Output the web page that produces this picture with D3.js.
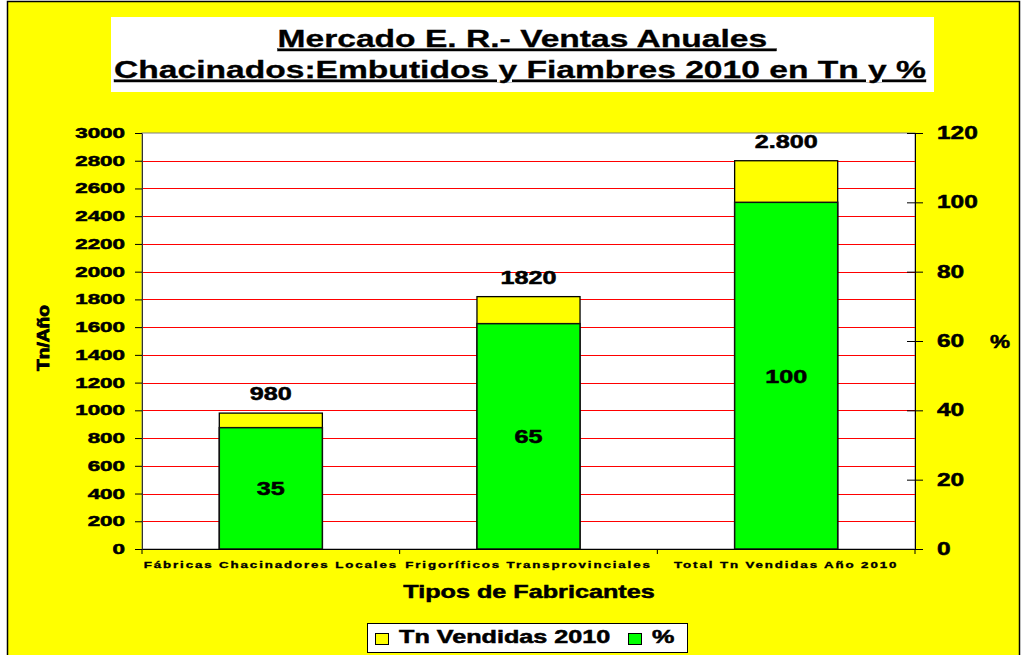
<!DOCTYPE html>
<html>
<head>
<meta charset="utf-8">
<script src="https://cdn.jsdelivr.net/npm/d3@7"></script>
<style>
  body { margin: 0; background: #fff; }
  text { font-family: "Liberation Sans", Arial, sans-serif; font-weight: bold; fill: #000;
         stroke: #000; stroke-width: 0.5px; }
</style>
</head>
<body>
<div id="chart"></div>
<script>
// data
var categories = ["Fábricas Chacinadores Locales", "Frigoríficos Transprovinciales", "Total Tn Vendidas Año 2010"];
var tnValues = [980, 1820, 2800];
var tnLabels = ["980", "1820", "2.800"];
var pctValues = [35, 65, 100];
var pctLabels = ["35", "65", "100"];
var leftTicks = [0, 200, 400, 600, 800, 1000, 1200, 1400, 1600, 1800, 2000, 2200, 2400, 2600, 2800, 3000];
var rightTicks = [0, 20, 40, 60, 80, 100, 120];
var gridValues = [200, 400, 600, 800, 1000, 1200, 1400, 1600, 1800, 2000, 2200, 2400, 2600, 2800];
var seriesNames = ["Tn Vendidas 2010", "%"];
var seriesColors = ["#ffff00", "#00ff00"];

var w = 1022, h = 655;
var pLeft = 142, pRight = 915, pTop = 133, pBottom = 549;

var svg = d3.select("#chart")
  .append("svg")
  .attr("width", w)
  .attr("height", h);

// stretch text horizontally like the original picture
function stretch(sel, sx) {
  sel.each(function() {
    var t = d3.select(this);
    var x = +t.attr("x") || 0;
    t.attr("x", x / sx).attr("transform", "scale(" + sx + ",1)");
  });
}

function label(x, y, str, size, sx, anchor) {
  var g = svg.append("g").attr("transform", "translate(" + x + "," + y + ")");
  var t = g.append("text")
    .attr("font-size", size)
    .attr("text-anchor", anchor || "middle")
    .attr("transform", "scale(" + sx + ",1)")
    .text(str);
  return t;
}

// chart frame
svg.append("rect")
  .attr("x", 7.5).attr("y", 1.5)
  .attr("width", 1012).attr("height", 700)
  .attr("fill", "#ffff00")
  .attr("stroke", "#000")
  .attr("stroke-width", 1.5);

// title box
svg.append("rect")
  .attr("x", 111).attr("y", 17)
  .attr("width", 823).attr("height", 75)
  .attr("fill", "#fff");

label(527, 47, "Mercado E. R.- Ventas Anuales ", 24, 1.4)
  .style("white-space", "pre")
  .style("text-decoration", "underline")
  .style("stroke-width", "0.3px");
label(520, 78, "Chacinados:Embutidos y Fiambres 2010 en Tn y %", 24, 1.4)
  .style("text-decoration", "underline")
  .style("stroke-width", "0.3px");

// scales
var x = d3.scaleBand()
  .domain(categories)
  .range([pLeft, pRight])
  .paddingInner(0.6)
  .paddingOuter(0.3);

var y = d3.scaleLinear().domain([0, 3000]).range([pBottom, pTop]);
var y2 = d3.scaleLinear().domain([0, 120]).range([pBottom, pTop]);

// plot area
svg.append("rect")
  .attr("x", pLeft).attr("y", pTop)
  .attr("width", pRight - pLeft).attr("height", pBottom - pTop)
  .attr("fill", "#fff")
  .attr("stroke", "#808080")
  .attr("stroke-width", 1);

svg.append("g")
  .selectAll("line")
  .data(gridValues)
  .enter()
  .append("line")
  .attr("x1", pLeft).attr("x2", pRight)
  .attr("y1", function(d) { return Math.round(y(d)) + 0.5; })
  .attr("y2", function(d) { return Math.round(y(d)) + 0.5; })
  .attr("stroke", "#ff0000")
  .attr("stroke-width", 1);

// bars
var bars = svg.append("g");

bars.selectAll(".tn")
  .data(tnValues)
  .enter()
  .append("rect")
  .attr("class", "tn")
  .attr("x", function(d, i) { return x(categories[i]); })
  .attr("width", x.bandwidth())
  .attr("y", function(d) { return y(d); })
  .attr("height", function(d) { return y(0) - y(d); })
  .attr("fill", seriesColors[0])
  .attr("stroke", "#000")
  .attr("stroke-width", 1.3);

bars.selectAll(".pct")
  .data(pctValues)
  .enter()
  .append("rect")
  .attr("class", "pct")
  .attr("x", function(d, i) { return x(categories[i]); })
  .attr("width", x.bandwidth())
  .attr("y", function(d) { return y2(d); })
  .attr("height", function(d) { return y2(0) - y2(d); })
  .attr("fill", seriesColors[1])
  .attr("stroke", "#111")
  .attr("stroke-width", 1.5);

// value labels
tnValues.forEach(function(d, i) {
  label(x(categories[i]) + x.bandwidth() / 2, y(d) - 13, tnLabels[i], 18, 1.4);
});
pctValues.forEach(function(d, i) {
  label(x(categories[i]) + x.bandwidth() / 2, (y2(d) + y2(0)) / 2 + 7, pctLabels[i], 18, 1.4);
});

// left axis
var axL = svg.append("g")
  .attr("transform", "translate(" + pLeft + ",0)")
  .call(d3.axisLeft(y).tickValues(leftTicks).tickFormat(d3.format("d"))
    .tickSizeInner(7).tickSizeOuter(0).tickPadding(10));
axL.attr("font-family", null);
axL.select(".domain").attr("stroke", "#333");
axL.selectAll("line").attr("stroke", "#000");
axL.selectAll("text")
  .attr("font-size", 14)
  .call(stretch, 1.6);

// right axis
var axR = svg.append("g")
  .attr("transform", "translate(" + pRight + ",0)")
  .call(d3.axisRight(y2).tickValues(rightTicks).tickFormat(d3.format("d"))
    .tickSizeInner(8).tickSizeOuter(0).tickPadding(14));
axR.attr("font-family", null);
axR.select(".domain").attr("stroke", "#000");
axR.selectAll(".tick line").attr("x1", -8).attr("stroke", "#000");
axR.selectAll("text")
  .attr("font-size", 17.5)
  .call(stretch, 1.4);

// bottom axis
var axB = svg.append("g")
  .attr("transform", "translate(0," + pBottom + ")")
  .call(d3.axisBottom(x).tickSize(0).tickPadding(12));
axB.attr("font-family", null);
axB.select(".domain").attr("stroke", "#000");
axB.selectAll("text")
  .attr("font-size", 9.5)
  .attr("letter-spacing", 1.35)
  .style("stroke-width", "0.35px")
  .call(stretch, 1.4);

var edges = categories.map(function(c) { return x(c) - (x.step() - x.bandwidth()) / 2; });
edges.push(pRight);
axB.selectAll(".edge")
  .data(edges)
  .enter()
  .append("line")
  .attr("x1", function(d) { return d; })
  .attr("x2", function(d) { return d; })
  .attr("y1", 0).attr("y2", 5)
  .attr("stroke", "#000");

// axis titles
label(529, 598, "Tipos de Fabricantes", 18, 1.4);

svg.append("g")
  .attr("transform", "translate(49,338) rotate(-90)")
  .append("text")
  .attr("font-size", 16)
  .attr("text-anchor", "middle")
  .attr("transform", "scale(1.2,1)")
  .style("stroke-width", "0.8px")
  .text("Tn/Año");

label(1000, 348, "%", 18, 1.25);

// legend
var legend = svg.append("g");
legend.append("rect")
  .attr("x", 367.5).attr("y", 623.5)
  .attr("width", 320).attr("height", 29)
  .attr("fill", "#fff")
  .attr("stroke", "#000")
  .attr("stroke-width", 1);

var legX = [375, 628];
var legTextX = [399, 652];
seriesNames.forEach(function(s, i) {
  legend.append("rect")
    .attr("x", legX[i] + 0.5).attr("y", 633.5)
    .attr("width", 13).attr("height", 11)
    .attr("fill", seriesColors[i])
    .attr("stroke", "#000")
    .attr("stroke-width", 1);
  label(legTextX[i], 643, s, 18, 1.4, "start");
});
</script>
</body>
</html>
